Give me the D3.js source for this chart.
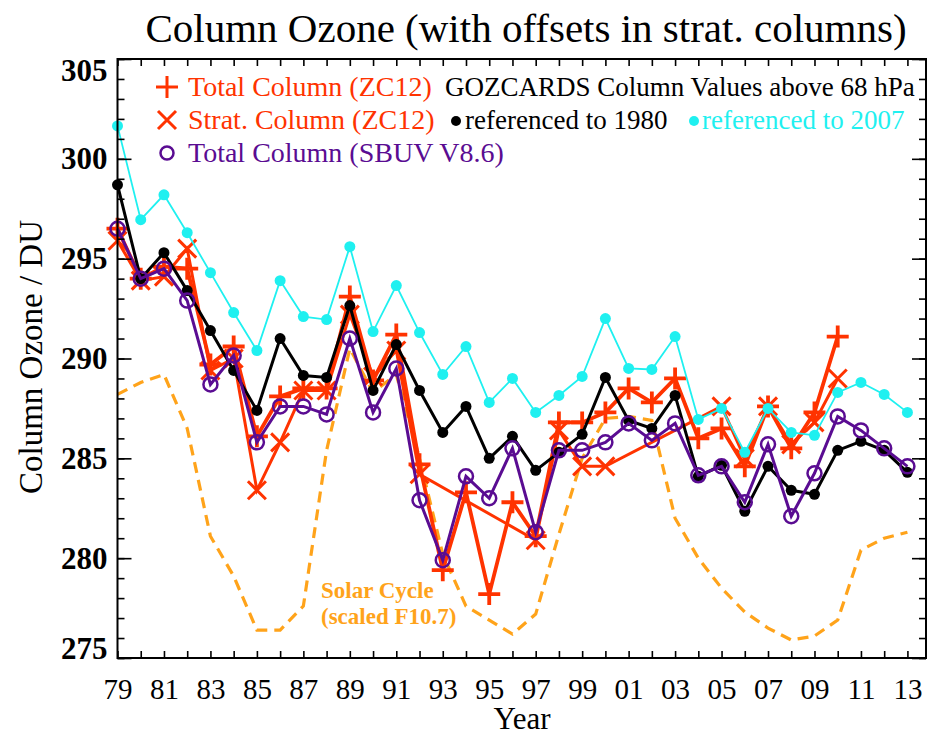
<!DOCTYPE html>
<html>
<head>
<meta charset="utf-8">
<script src="https://cdn.jsdelivr.net/npm/d3@7/dist/d3.min.js"></script>
<style>
  body { margin: 0; background: #fff; }
  text { font-family: "Liberation Serif", "Times New Roman", serif; }
</style>
</head>
<body>
<svg id="chart" width="927" height="736"></svg>
<script>
// years 1979 .. 2013
var years = [1979, 1980, 1981, 1982, 1983, 1984, 1985, 1986, 1987, 1988,
             1989, 1990, 1991, 1992, 1993, 1994, 1995, 1996, 1997, 1998,
             1999, 2000, 2001, 2002, 2003, 2004, 2005, 2006, 2007, 2008,
             2009, 2010, 2011, 2012, 2013];
var yearLabels = [1979, 1981, 1983, 1985, 1987, 1989, 1991, 1993, 1995, 1997,
                  1999, 2001, 2003, 2005, 2007, 2009, 2011, 2013];

// GOZCARDS referenced to 2007 (cyan)
var ref2007 = [301.65, 296.95, 298.2, 296.3, 294.3, 292.3, 290.4, 293.9, 292.1, 291.95,
               295.6, 291.35, 293.65, 291.3, 289.2, 290.6, 287.8, 289.0, 287.3, 288.15,
               289.1, 292.0, 289.5, 289.45, 291.1, 286.95, 287.5, 285.3, 287.5, 286.3,
               286.15, 288.3, 288.8, 288.2, 287.3];
// GOZCARDS referenced to 1980 (black)
var ref1980 = [298.7, 294.0, 295.3, 293.4, 291.4, 289.4, 287.4, 291.0, 289.15, 289.05,
               292.65, 288.4, 290.7, 288.4, 286.3, 287.6, 285.0, 286.1, 284.4, 285.3,
               286.2, 289.05, 286.9, 286.5, 288.15, 284.1, 284.65, 282.35, 284.6, 283.4,
               283.2, 285.4, 285.85, 285.4, 284.3];
// Total column SBUV V8.6 (purple)
var sbuvTotal = [296.5, 294.0, 294.5, 292.9, 288.7, 290.15, 285.8, 287.6, 287.6, 287.2,
                 291.0, 287.3, 289.5, 282.9, 279.9, 284.1, 283.0, 285.5, 281.3, 285.4,
                 285.4, 285.8, 286.75, 285.9, 286.75, 284.15, 284.6, 282.8, 285.7, 282.1,
                 284.25, 287.1, 286.4, 285.5, 284.6];
// Total column ZC12 (red +)
var zcTotal = [296.5, 294.0, 294.6, 294.5, 289.7, 290.6, 286.1, 288.1, 288.5, 288.5,
               293.1, 288.9, 291.2, 284.7, 279.4, 283.3, 278.2, 282.8, 281.1, 286.8,
               286.8, 287.3, 288.5, 287.8, 289.0, 286.0, 286.5, 284.6, 287.6, 285.5,
               287.3, 291.1, null, null, null];
// Strat. column ZC12 (red x)
var zcStrat = [295.9, 293.9, 294.1, 295.5, 289.4, 290.0, 283.4, 285.8, 288.4, 288.4,
               292.2, 289.1, 290.4, 284.2, null, null, null, null, 280.9, 286.4,
               284.6, 284.6, null, null, null, null, 287.6, 285.0, 287.6, 285.7,
               286.8, 289.0, null, null, null];
// Solar cycle (scaled F10.7), orange dashed
var solar = [288.2, 288.8, 289.2, 286.5, 281.1, 279.1, 276.4, 276.4, 277.6, 285.4,
             290.5, 288.3, 289.2, 285.0, 280.2, 277.6, 276.9, 276.2, 277.2, 281.2,
             285.0, 287.0, 287.1, 286.9, 282.0, 280.0, 278.5, 277.3, 276.5, 275.9,
             276.1, 276.9, 280.4, 281.0, 281.3];

var RED = "#ff3300", PURPLE = "#5a0c92", CYAN = "#1ff0f0", ORANGE = "#ffa31a";

var svg = d3.select("#chart");
var x = d3.scaleLinear().domain([1979, 2013.8]).range([117.5, 926]);
var y = d3.scaleLinear().domain([275, 305]).range([658, 59]);

const series = (arr) => years.map((yr, i) => ({year: yr, v: arr[i]}))
                             .filter(d => d.v != null);
var line = d3.line().x(d => x(d.year)).y(d => y(d.v));

// solar cycle
svg.append("path")
    .datum(series(solar))
    .attr("d", line)
    .attr("fill", "none")
    .attr("stroke", ORANGE)
    .attr("stroke-width", 3.2)
    .attr("stroke-dasharray", "11,7");

svg.append("text").attr("x", 321).attr("y", 598).attr("font-weight", "bold")
    .attr("fill", ORANGE).attr("font-size", 23).text("Solar Cycle");
svg.append("text").attr("x", 321).attr("y", 624).attr("font-weight", "bold")
    .attr("fill", ORANGE).attr("font-size", 23).text("(scaled F10.7)");

// ZC12 lines
var plusPath = "M-11,0H11M0,-11V11";
var crossPath = "M-9,-9L9,9M-9,9L9,-9";

svg.append("path").datum(series(zcTotal)).attr("d", line)
    .attr("fill", "none").attr("stroke", RED).attr("stroke-width", 3.8);
svg.selectAll(".plus").data(series(zcTotal)).join("path")
    .attr("class", "plus")
    .attr("transform", d => `translate(${x(d.year)},${y(d.v)})`)
    .attr("d", plusPath).attr("stroke", RED).attr("stroke-width", 3.8);

svg.append("path").datum(series(zcStrat)).attr("d", line)
    .attr("fill", "none").attr("stroke", RED).attr("stroke-width", 3);
svg.selectAll(".cross").data(series(zcStrat)).join("path")
    .attr("class", "cross")
    .attr("transform", d => `translate(${x(d.year)},${y(d.v)})`)
    .attr("d", crossPath).attr("stroke", RED).attr("stroke-width", 3);

// GOZCARDS referenced to 1980
svg.append("path").datum(series(ref1980)).attr("d", line)
    .attr("fill", "none").attr("stroke", "#000").attr("stroke-width", 3);
svg.selectAll(".blk").data(series(ref1980)).join("circle")
    .attr("class", "blk")
    .attr("cx", d => x(d.year)).attr("cy", d => y(d.v))
    .attr("r", 5.5).attr("fill", "#000");

// SBUV
svg.append("path").datum(series(sbuvTotal)).attr("d", line)
    .attr("fill", "none").attr("stroke", PURPLE).attr("stroke-width", 3);
svg.selectAll(".sbuv").data(series(sbuvTotal)).join("circle")
    .attr("class", "sbuv")
    .attr("cx", d => x(d.year)).attr("cy", d => y(d.v))
    .attr("r", 7).attr("fill", "none").attr("stroke", PURPLE).attr("stroke-width", 2.5);

// GOZCARDS referenced to 2007
svg.append("path").datum(series(ref2007)).attr("d", line)
    .attr("fill", "none").attr("stroke", CYAN).attr("stroke-width", 1.8);
svg.selectAll(".cyn").data(series(ref2007)).join("circle")
    .attr("class", "cyn")
    .attr("cx", d => x(d.year)).attr("cy", d => y(d.v))
    .attr("r", 5.5).attr("fill", CYAN);

// frame and ticks
svg.append("rect").attr("x", 117.5).attr("y", 59)
    .attr("width", 926 - 117.5).attr("height", 658 - 59)
    .attr("fill", "none").attr("stroke", "#000").attr("stroke-width", 2);

const tickAxis = (axis, tx, ty) => {
    var g = svg.append("g").attr("transform", `translate(${tx},${ty})`).call(axis);
    g.select(".domain").remove();
    g.selectAll("line").attr("stroke-width", 1.6);
    return g;
};
tickAxis(d3.axisBottom(x).tickValues(years).tickSize(-7).tickFormat(""), 0, 658);
tickAxis(d3.axisTop(x).tickValues(years).tickSize(-7).tickFormat(""), 0, 59);
var minorY = y.ticks(30), majorY = y.ticks(6);
tickAxis(d3.axisLeft(y).tickValues(minorY).tickSize(-7).tickFormat(""), 117.5, 0);
tickAxis(d3.axisLeft(y).tickValues(majorY).tickSize(-14).tickFormat(""), 117.5, 0);
tickAxis(d3.axisRight(y).tickValues(minorY).tickSize(-7).tickFormat(""), 926, 0);
tickAxis(d3.axisRight(y).tickValues(majorY).tickSize(-14).tickFormat(""), 926, 0);

// tick labels
var xl = tickAxis(d3.axisBottom(x).tickValues(yearLabels).tickSize(0).tickPadding(20)
    .tickFormat(d => String(d % 100).padStart(2, "0")), 0, 658);
xl.selectAll("text").attr("font-size", 29).attr("font-family", "Liberation Serif").attr("fill", "#000");

var yl = tickAxis(d3.axisLeft(y).tickValues(majorY).tickSize(0).tickPadding(10), 117.5, 0);
yl.selectAll("text").attr("font-size", 31).attr("font-weight", "bold")
    .attr("font-family", "Liberation Serif").attr("fill", "#000")
    .attr("dy", d => d === 305 ? "0.68em" : d === 275 ? "0.0em" : "0.32em");

// titles
svg.append("text").attr("x", 526).attr("y", 42).attr("text-anchor", "middle")
    .attr("font-size", 41).text("Column Ozone (with offsets in strat. columns)");
svg.append("text").attr("x", 522).attr("y", 729).attr("text-anchor", "middle")
    .attr("font-size", 31).text("Year");
svg.append("text").attr("transform", "translate(42,357) rotate(-90)")
    .attr("text-anchor", "middle").attr("font-size", 33).text("Column Ozone / DU");

// legend
var lg = svg.append("g");
lg.append("path").attr("transform", "translate(167,87)").attr("d", plusPath)
    .attr("stroke", RED).attr("stroke-width", 3);
lg.append("text").attr("x", 188).attr("y", 96).attr("font-size", 28)
    .attr("fill", RED).text("Total Column (ZC12)");
lg.append("path").attr("transform", "translate(167,120)").attr("d", crossPath)
    .attr("stroke", RED).attr("stroke-width", 3);
lg.append("text").attr("x", 188).attr("y", 129).attr("font-size", 28)
    .attr("fill", RED).text("Strat. Column (ZC12)");
lg.append("circle").attr("cx", 167).attr("cy", 153).attr("r", 6.5)
    .attr("fill", "none").attr("stroke", PURPLE).attr("stroke-width", 2.5);
lg.append("text").attr("x", 188).attr("y", 162).attr("font-size", 28)
    .attr("fill", PURPLE).text("Total Column (SBUV V8.6)");
lg.append("text").attr("x", 445).attr("y", 96).attr("font-size", 27)
    .attr("fill", "#000").text("GOZCARDS Column Values above 68 hPa");
lg.append("circle").attr("cx", 456).attr("cy", 121).attr("r", 5).attr("fill", "#000");
lg.append("text").attr("x", 465).attr("y", 129).attr("font-size", 27)
    .attr("fill", "#000").text("referenced to 1980");
lg.append("circle").attr("cx", 694).attr("cy", 121).attr("r", 5).attr("fill", CYAN);
lg.append("text").attr("x", 702).attr("y", 129).attr("font-size", 27)
    .attr("fill", CYAN).text("referenced to 2007");
</script>
</body>
</html>
